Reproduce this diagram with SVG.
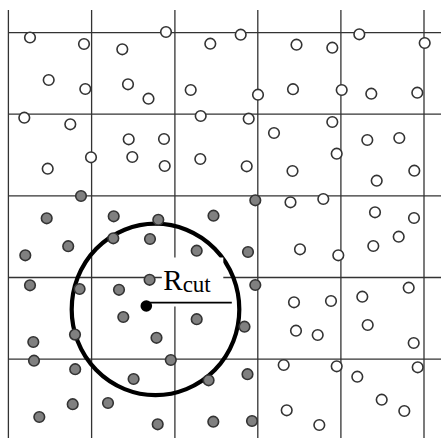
<svg xmlns="http://www.w3.org/2000/svg" width="441" height="438" viewBox="0 0 441 438">
<style>
.grid line{stroke:#333;stroke-width:1.3}
.p{stroke:#333;stroke-width:1.6}
.o{fill:#fff}
.g{fill:#808080}
.lbl{font-family:"Liberation Serif","Times New Roman",serif;fill:#000}
</style>
<rect width="441" height="438" fill="#fff"/>
<g id="grid" class="grid">
<line x1="8.4" y1="10" x2="8.4" y2="438"/>
<line x1="91.6" y1="10" x2="91.6" y2="438"/>
<line x1="174.9" y1="10" x2="174.9" y2="438"/>
<line x1="257.8" y1="10" x2="257.8" y2="438"/>
<line x1="340.9" y1="10" x2="340.9" y2="438"/>
<line x1="424" y1="10" x2="424" y2="438"/>
<line x1="8.4" y1="32.7" x2="441" y2="32.7"/>
<line x1="8.4" y1="114.2" x2="441" y2="114.2"/>
<line x1="8.4" y1="195.8" x2="441" y2="195.8"/>
<line x1="8.4" y1="277.5" x2="441" y2="277.5"/>
<line x1="8.4" y1="359.1" x2="441" y2="359.1"/>
</g>
<g id="cutoff-sphere">
<ellipse cx="155.5" cy="309.4" rx="83.8" ry="85.7" fill="none" stroke="#000" stroke-width="4.2"/>
</g>
<g id="outside-particles" class="p o">
<circle cx="30" cy="37.5" r="5.3"/><circle cx="84" cy="44" r="5.3"/><circle cx="122.3" cy="49.3" r="5.3"/><circle cx="166" cy="32" r="5.3"/><circle cx="210.3" cy="43.7" r="5.3"/><circle cx="240.7" cy="34.7" r="5.3"/><circle cx="296.5" cy="44.7" r="5.3"/><circle cx="332.3" cy="47.7" r="5.3"/><circle cx="359.3" cy="34.3" r="5.3"/><circle cx="424.7" cy="43" r="5.3"/>
<circle cx="48.7" cy="80" r="5.3"/><circle cx="85.3" cy="89" r="5.3"/><circle cx="128" cy="84.3" r="5.3"/><circle cx="148.5" cy="98.7" r="5.3"/><circle cx="190.7" cy="90" r="5.3"/><circle cx="258" cy="94.7" r="5.3"/><circle cx="293" cy="89.2" r="5.3"/><circle cx="341.7" cy="90" r="5.3"/><circle cx="371.3" cy="93.7" r="5.3"/><circle cx="417.3" cy="92.7" r="5.3"/>
<circle cx="24.3" cy="117.7" r="5.3"/><circle cx="70.3" cy="124.3" r="5.3"/><circle cx="128.7" cy="139.3" r="5.3"/><circle cx="164" cy="139" r="5.3"/><circle cx="200.7" cy="116" r="5.3"/><circle cx="248.7" cy="118.7" r="5.3"/><circle cx="274" cy="133" r="5.3"/><circle cx="332.3" cy="122" r="5.3"/><circle cx="367.3" cy="140" r="5.3"/><circle cx="399.3" cy="138" r="5.3"/>
<circle cx="47.7" cy="168.7" r="5.3"/><circle cx="91" cy="157.3" r="5.3"/><circle cx="132.3" cy="157" r="5.3"/><circle cx="164.7" cy="166" r="5.3"/><circle cx="200.3" cy="159" r="5.3"/><circle cx="246.7" cy="166.3" r="5.3"/><circle cx="292.5" cy="171" r="5.3"/><circle cx="336.7" cy="153.7" r="5.3"/><circle cx="376.7" cy="180.7" r="5.3"/><circle cx="414.3" cy="170.7" r="5.3"/>
<circle cx="290.5" cy="202.3" r="5.3"/><circle cx="323.3" cy="199" r="5.3"/><circle cx="375" cy="212.3" r="5.3"/><circle cx="414" cy="218" r="5.3"/><circle cx="398.7" cy="236.7" r="5.3"/><circle cx="373.3" cy="246" r="5.3"/><circle cx="300" cy="249.3" r="5.3"/><circle cx="338.3" cy="255.3" r="5.3"/><circle cx="408.7" cy="287.7" r="5.3"/><circle cx="362.3" cy="296.7" r="5.3"/>
<circle cx="294" cy="302.3" r="5.3"/><circle cx="331" cy="301" r="5.3"/><circle cx="296" cy="330.7" r="5.3"/><circle cx="317.7" cy="335" r="5.3"/><circle cx="367.7" cy="325" r="5.3"/><circle cx="413.7" cy="343" r="5.3"/><circle cx="283.7" cy="365" r="5.3"/><circle cx="336.7" cy="366.3" r="5.3"/><circle cx="357.3" cy="376.7" r="5.3"/><circle cx="417.7" cy="367.3" r="5.3"/><circle cx="381.7" cy="399.7" r="5.3"/><circle cx="404.3" cy="411" r="5.3"/><circle cx="286.7" cy="410.3" r="5.3"/><circle cx="319.3" cy="425" r="5.3"/>
</g>
<g id="neighbour-particles" class="p g">
<circle cx="81" cy="196" r="5.3"/><circle cx="255.3" cy="200.3" r="5.3"/><circle cx="46.7" cy="218.3" r="5.3"/><circle cx="113.7" cy="216.3" r="5.3"/><circle cx="158.3" cy="219.8" r="5.3"/><circle cx="213.5" cy="215.7" r="5.3"/><circle cx="113.3" cy="238.3" r="5.3"/><circle cx="150" cy="239" r="5.3"/><circle cx="68.2" cy="246.2" r="5.3"/><circle cx="196.7" cy="250.7" r="5.3"/><circle cx="248" cy="252" r="5.3"/><circle cx="25.3" cy="255.3" r="5.3"/>
<circle cx="30" cy="285.3" r="5.3"/><circle cx="79.6" cy="289" r="5.3"/><circle cx="119" cy="289.8" r="5.3"/><circle cx="149.6" cy="279.8" r="5.3"/><circle cx="255.3" cy="285" r="5.3"/><circle cx="123.3" cy="317" r="5.3"/><circle cx="196.7" cy="319.2" r="5.3"/><circle cx="244.5" cy="326.7" r="5.3"/><circle cx="156.5" cy="337.8" r="5.3"/><circle cx="33.3" cy="342" r="5.3"/><circle cx="75" cy="334.6" r="5.3"/>
<circle cx="34" cy="360.7" r="5.3"/><circle cx="75.2" cy="369.2" r="5.3"/><circle cx="170.8" cy="360" r="5.3"/><circle cx="133.6" cy="379" r="5.3"/><circle cx="208.6" cy="380.3" r="5.3"/><circle cx="247.5" cy="374.2" r="5.3"/><circle cx="72.7" cy="404.2" r="5.3"/><circle cx="108" cy="403" r="5.3"/><circle cx="39.3" cy="417" r="5.3"/><circle cx="157.7" cy="424.3" r="5.3"/><circle cx="213.3" cy="421.7" r="5.3"/><circle cx="252" cy="421" r="5.3"/>
</g>
<g id="rcut-label">
<rect x="161.8" y="257.5" width="61.5" height="49" fill="#fff"/>
<text class="lbl" x="163.3" y="289.5" font-size="29">R<tspan font-size="23" dy="2.8">cut</tspan></text>
</g>
<g id="radius">
<line x1="146.5" y1="302.6" x2="231.8" y2="302.6" stroke="#000" stroke-width="1.6"/>
<circle cx="146.3" cy="306" r="5.8" fill="#000"/>
</g>
</svg>
